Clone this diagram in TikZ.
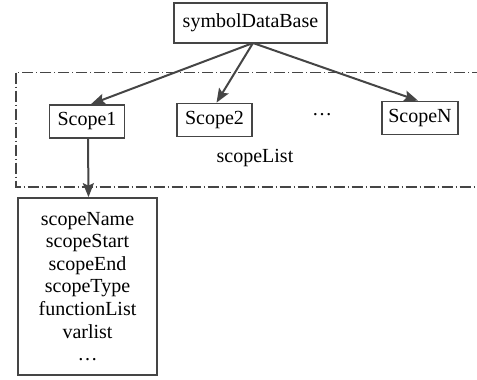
\documentclass[tikz,border=0pt]{standalone}
\usepackage{fontspec}
\setmainfont{Liberation Serif}
\usetikzlibrary{arrows.meta}
\usetikzlibrary{positioning}
\definecolor{linegray}{HTML}{454545}

\begin{document}
\begin{tikzpicture}[x=1pt, y=-1pt,
        nodes={font={\fontsize{20}{22.6}\selectfont}, text=black},
        box_style/.style={rectangle, draw=linegray, line width=1.7pt, inner sep=0pt},
        scope_style/.style={box_style, minimum width=75pt, minimum height=33pt},
        arrow_style/.style={-{Stealth[length=14pt, width=11pt, inset=2.5pt]}, draw=linegray, line width=2pt}]

      \useasboundingbox (0,0) rectangle (477,380);

      % outer scope list
      \draw[draw=linegray, line width=1.1pt, dash pattern=on 11pt off 3pt on 1pt off 3pt]
        (16,72.5) rectangle (495,187);

      \node[box_style, minimum width=153pt, minimum height=40pt] (db) at (250.5,23) {symbolDataBase};
      \coordinate (db_out) at (253,43);

      \node[scope_style] (scope1) at (87,121.5) {Scope1};
      \node[scope_style] (scope2) at (214.5,120) {Scope2};
      \node (dots) at (322,115) {\ldots};
      \node[scope_style, minimum width=76pt] (scopeN) at (420,118) {ScopeN};
      \node (scope_list) at (255,158) {scopeList};

      \node[box_style, minimum width=139pt, minimum height=177pt, align=center] (fields) at (87.5,286.5) {
        scopeName\\scopeStart\\scopeEnd\\scopeType\\functionList\\varlist\\\ldots};

      \draw[arrow_style] (db_out) -- ([xshift=4pt]scope1.north);
      \draw[arrow_style] (db_out) -- ([xshift=2pt]scope2.north);
      \draw[arrow_style] (db_out) -- ([xshift=-2pt]scopeN.north);
      \draw[arrow_style] ([xshift=1pt]scope1.south) -- ([xshift=1pt]fields.north);
    \end{tikzpicture}
\end{document}
